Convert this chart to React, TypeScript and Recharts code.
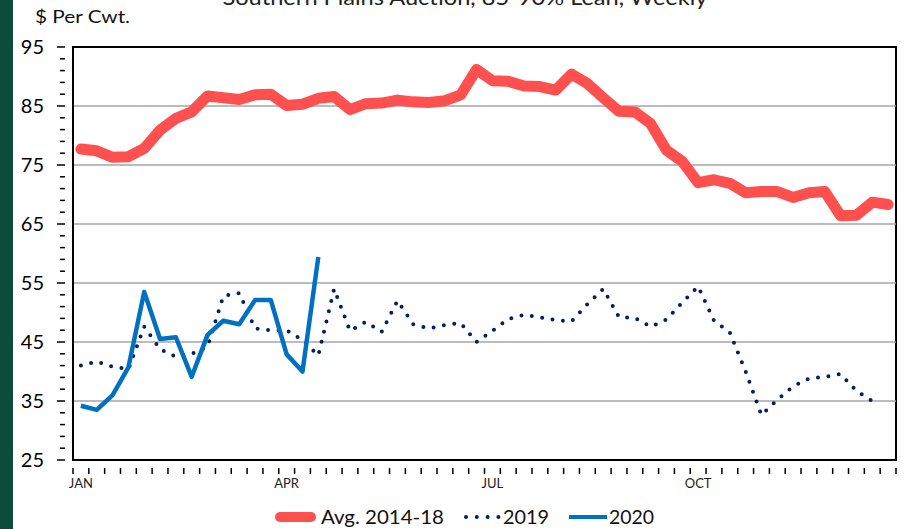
import React from "react";
import { LineChart, Line, XAxis, YAxis, ReferenceLine, ReferenceArea } from "recharts";

const weeks: number[] = Array.from({ length: 52 }, (_, i) => i + 1);

const avg201418: number[] = [
  77.7, 77.4, 76.3, 76.4, 77.8, 80.9, 82.9, 84.0, 86.7, 86.4,
  86.1, 86.9, 87.0, 85.1, 85.3, 86.3, 86.6, 84.4, 85.4, 85.5,
  86.0, 85.7, 85.6, 85.9, 86.9, 91.2, 89.3, 89.2, 88.4, 88.3,
  87.7, 90.4, 88.8, 86.4, 84.1, 84.0, 82.0, 77.5, 75.6, 72.0,
  72.5, 71.9, 70.3, 70.5, 70.5, 69.5, 70.3, 70.5, 66.4, 66.5,
  68.7, 68.3,
];

const y2019: (number | null)[] = [
  41.0, 41.7, 40.8, 40.4, 47.6, 43.8, 42.5, 43.0, 44.2, 52.8,
  53.3, 47.3, 47.0, 47.0, 45.3, 42.7, 54.0, 46.9, 48.4, 46.7,
  52.0, 48.0, 47.3, 47.9, 48.2, 45.0, 46.9, 48.9, 49.6, 49.2,
  48.7, 48.5, 51.4, 54.0, 49.2, 49.1, 47.6, 48.8, 51.7, 54.4,
  48.6, 46.6, 40.0, 32.6, 35.2, 37.5, 38.8, 39.1, 39.6, 36.7,
  35.0, null,
];

const y2020: number[] = [
  34.2, 33.5, 36.0, 40.7, 53.5, 45.5, 45.8, 39.1, 46.2, 48.6,
  48.0, 52.1, 52.1, 42.9, 40.0, 59.4,
];

const monthTickLabels: string[] = ["JAN", "APR", "JUL", "OCT"];
const monthTickWeeks: number[] = [1, 14, 27, 40];

const yTicks: number[] = Array.from({ length: 36 }, (_, i) => 25 + i * 2);
const gridValues: number[] = [35, 45, 55, 65, 75, 85];

const data = weeks.map((w, i) => ({
  week: w,
  avg: avg201418[i],
  y2019: y2019[i] ?? null,
  y2020: i < y2020.length ? y2020[i] : null,
}));

const W = 905;
const H = 529;
const M = { top: 47, right: 9, bottom: 39, left: 13 };
const Y_W = 60;
const PLOT_W = W - M.left - M.right - Y_W;
const HALF_BAND = PLOT_W / weeks.length / 2;
const FONT = "Lato, 'Open Sans', sans-serif";

const YTick = (props: any) => {
  const { x, y, payload } = props;
  const v = payload.value as number;
  const major = (v - 25) % 10 === 0;
  return (
    <g>
      <line x1={x} x2={x - (major ? 8 : 5)} y1={y} y2={y} stroke="#000" strokeWidth={1.5} />
      {major && (
        <text x={x - 21} y={y} dy={7} textAnchor="end" fontFamily={FONT} fontSize={20} fill="#000">
          {v}
        </text>
      )}
    </g>
  );
};

const XTick = (props: any) => {
  const { x, y, payload, index } = props;
  const wk = payload.value as number;
  const li = monthTickWeeks.indexOf(wk);
  return (
    <g>
      <line x1={x - HALF_BAND} x2={x - HALF_BAND} y1={y} y2={y + 6} stroke="#000" strokeWidth={1.5} />
      {index === weeks.length - 1 && (
        <line x1={x + HALF_BAND} x2={x + HALF_BAND} y1={y} y2={y + 6} stroke="#000" strokeWidth={1.5} />
      )}
      {li >= 0 && (
        <text x={x} y={y + 20} textAnchor="middle" fontFamily={FONT} fontSize={13} fill="#222">
          {monthTickLabels[li]}
        </text>
      )}
    </g>
  );
};

export default function App() {
  return (
    <div
      style={{
        position: "fixed",
        left: 0,
        top: 0,
        width: W,
        height: H,
        background: "#fff",
        overflow: "hidden",
      }}
    >
      <div style={{ position: "absolute", left: 0, top: 0, width: 13, height: H, background: "#0B4D3A" }} />
      <svg style={{ position: "absolute", left: 0, top: 0 }} width={W} height={H}>
        <text x={465} y={5} textAnchor="middle" fontFamily={FONT} fontSize={21} fill="#222"
          textLength={485} lengthAdjust="spacingAndGlyphs">
          Southern Plains Auction, 85-90% Lean, Weekly
        </text>
        <text x={35} y={23} fontFamily={FONT} fontSize={18} fill="#111" textLength={95} lengthAdjust="spacingAndGlyphs">
          $ Per Cwt.
        </text>
      </svg>
      <div style={{ position: "absolute", left: 0, top: 0 }}>
        <LineChart width={W} height={H} data={data} margin={M}>
          <XAxis
            dataKey="week"
            type="category"
            scale="band"
            interval={0}
            height={30}
            axisLine={{ stroke: "#000", strokeWidth: 2 }}
            tickLine={false}
            tick={<XTick />}
          />
          <YAxis
            type="number"
            domain={[25, 95]}
            ticks={yTicks}
            interval={0}
            width={Y_W}
            axisLine={{ stroke: "#000", strokeWidth: 2 }}
            tickLine={false}
            tick={<YTick />}
          />
          {gridValues.map((g) => (
            <ReferenceLine key={g} y={g} stroke="#A6A6A6" strokeWidth={1.5} />
          ))}
          <ReferenceArea y1={25} y2={95} fill="none" stroke="#000" strokeWidth={2} ifOverflow="visible" />
          <Line
            dataKey="avg"
            stroke="#FF5050"
            strokeWidth={11}
            dot={false}
            strokeLinejoin="round"
            strokeLinecap="round"
            isAnimationActive={false}
          />
          <Line
            dataKey="y2019"
            stroke="#002060"
            strokeWidth={4}
            strokeDasharray="0 10.5"
            strokeLinecap="round"
            dot={false}
            connectNulls={false}
            isAnimationActive={false}
          />
          <Line
            dataKey="y2020"
            stroke="#0070C0"
            strokeWidth={4.5}
            dot={false}
            strokeLinejoin="round"
            isAnimationActive={false}
          />
        </LineChart>
      </div>
      <svg style={{ position: "absolute", left: 0, top: 0, pointerEvents: "none" }} width={W} height={H}>
        <line x1={280} x2={311} y1={517} y2={517} stroke="#FF5050" strokeWidth={10} strokeLinecap="round" />
        <text x={321} y={524} fontFamily={FONT} fontSize={20} fill="#111" textLength={123} lengthAdjust="spacingAndGlyphs">
          Avg. 2014-18
        </text>
        <line x1={466} x2={500} y1={517} y2={517} stroke="#002060" strokeWidth={4} strokeDasharray="0 10.8" strokeLinecap="round" />
        <text x={503} y={524} fontFamily={FONT} fontSize={20} fill="#111" textLength={46} lengthAdjust="spacingAndGlyphs">
          2019
        </text>
        <line x1={569} x2={607} y1={517} y2={517} stroke="#0070C0" strokeWidth={4} />
        <text x={609} y={524} fontFamily={FONT} fontSize={20} fill="#111" textLength={45} lengthAdjust="spacingAndGlyphs">
          2020
        </text>
      </svg>
    </div>
  );
}
